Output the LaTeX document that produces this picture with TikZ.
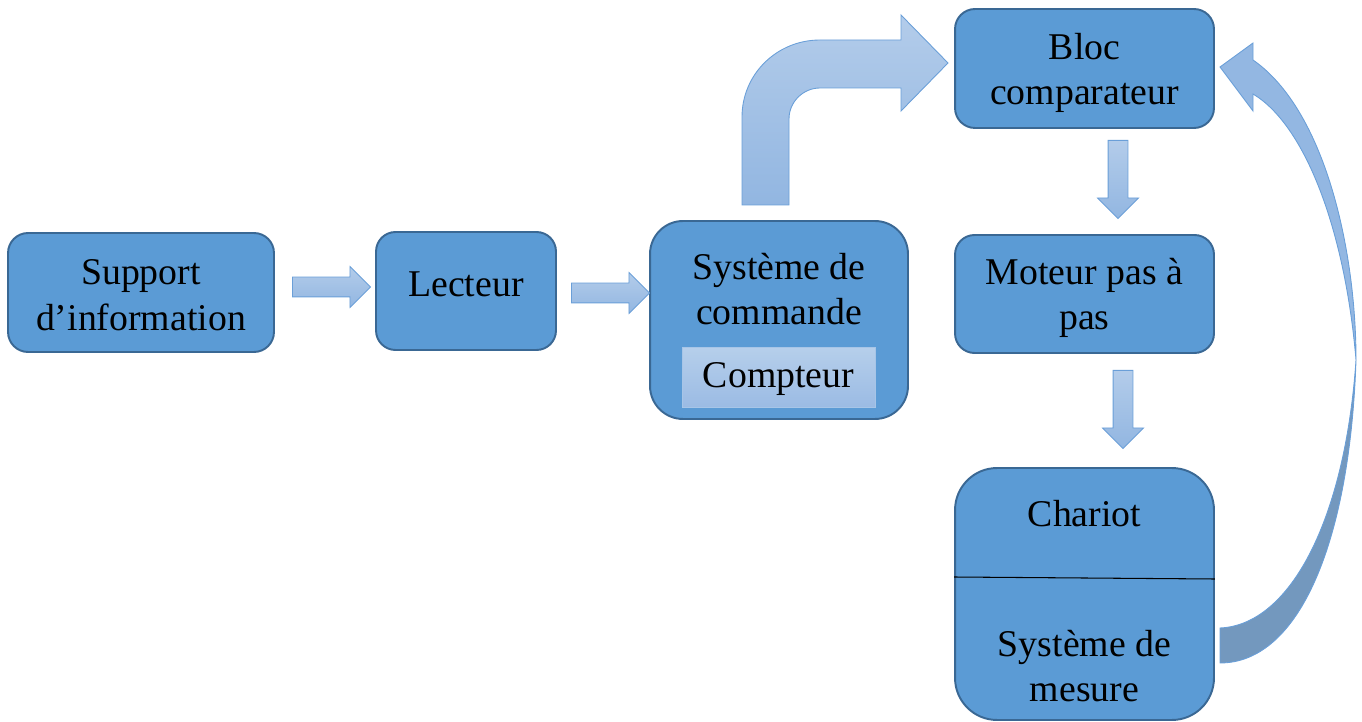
\documentclass[tikz,border=0pt]{standalone}
\usepackage{fontspec}
\setmainfont{Liberation Serif}
\usetikzlibrary{shapes.arrows}

\definecolor{blocfill}{HTML}{5B9BD5}
\definecolor{blocline}{HTML}{3A6894}
\definecolor{arrowline}{HTML}{6A9FD8}
\definecolor{arrowtop}{HTML}{B3CCEA}
\definecolor{arrowbot}{HTML}{92B6E1}
\definecolor{cptop}{HTML}{B6CFEB}
\definecolor{cpbot}{HTML}{9BBBE4}
\definecolor{curveup}{HTML}{93B7E2}
\definecolor{curvelow}{HTML}{7398BE}

\begin{document}
\begin{tikzpicture}[
  x=0.02cm, y=-0.02cm,
  font=\fontsize{21.5}{26}\selectfont,
  bloc/.style={draw=blocline, line width=1.1pt, fill=blocfill, align=center,
    inner sep=0pt},
  txt/.style={align=center, inner sep=0pt},
  compteur/.style={draw=cptop!80!arrowline, line width=0.4pt, top color=cptop,
    bottom color=cpbot, inner sep=0pt},
  blockarrow/.style={single arrow, draw=arrowline, line width=0.5pt,
    top color=arrowtop, bottom color=arrowbot, inner xsep=0pt,
    inner ysep=0.19cm, minimum height=1.56cm, single arrow head extend=0.21cm,
    anchor=tail},
  bigarrow/.style={draw=arrowline, line width=0.5pt}
]
\useasboundingbox (0,0) rectangle (1362,722);

\node[bloc, minimum width=5.32cm, minimum height=2.38cm, rounded corners=0.4cm]
  (support) at (141,292.5) {};
\node[txt] (supporttxt) at (141,295) {Support\\d’information};
\node[bloc, minimum width=3.6cm, minimum height=2.36cm, rounded corners=0.39cm]
  (lecteur) at (466,291) {};
\node[txt] (lecteurtxt) at (466,284) {Lecteur};

\node[bloc, minimum width=5.16cm, minimum height=3.96cm, rounded corners=0.66cm]
  (commande) at (779,320) {};
\node[txt] (commandetxt) at (779,289) {Système de\\commande};
\node[compteur, minimum width=3.86cm, minimum height=1.2cm] (compteur)
  at (778.5,377) {};
\node[txt] (compteurtxt) at (778.5,379) {Compteur};

\node[bloc, minimum width=5.18cm, minimum height=2.38cm, rounded corners=0.4cm]
  (bloc) at (1084.5,68.5) {};
\node[txt] (bloctxt) at (1084.5,73) {Bloc\\comparateur};
\node[bloc, minimum width=5.18cm, minimum height=2.36cm, rounded corners=0.39cm]
  (moteur) at (1084.5,294) {};
\node[txt] (moteurtxt) at (1084.5,298) {Moteur pas à\\pas};

\node[bloc, minimum width=5.18cm, minimum height=5.04cm, rounded corners=0.84cm]
  (chariot) at (1084.5,594) {};
\node[txt] (chariottxt) at (1084.5,514) {Chariot};
\node[txt] (mesure) at (1084.5,666) {Système de\\mesure};
\draw[line width=0.6pt] (chariot.west |- 0,577) -- (chariot.east |- 0,579);

% fleches droites
\node[blockarrow] (a1) at (292,287) {};
\node[blockarrow] (a2) at (571,293) {};
\node[blockarrow, rotate=-90] (a3) at (1118,140) {};
\node[blockarrow, rotate=-90] (a4) at (1123,370) {};

% commande -> comparateur
\path[bigarrow, top color=arrowtop, bottom color=arrowbot]
  (742,205) -- (742,117) .. controls (742,74) and (777,40) .. (820,40)
  -- (901,40) -- (901,15) -- (948,63) -- (901,111) -- (901,88) -- (820,88)
  .. controls (803,88) and (789,102) .. (789,119) -- (789,205) -- cycle;

% mesure -> comparateur
\path[bigarrow, fill=curvelow]
  (1220,628) .. controls (1290,625) and (1345,520) .. (1356,360)
  .. controls (1350,540) and (1300,663) .. (1220,663) -- cycle;
\path[bigarrow, fill=curveup]
  (1356,360) .. controls (1356,250) and (1325,110) .. (1253,60)
  -- (1253,43) -- (1220,67) -- (1253,111) -- (1253,94)
  .. controls (1305,125) and (1345,230) .. (1356,360) -- cycle;

\end{tikzpicture}
\end{document}
